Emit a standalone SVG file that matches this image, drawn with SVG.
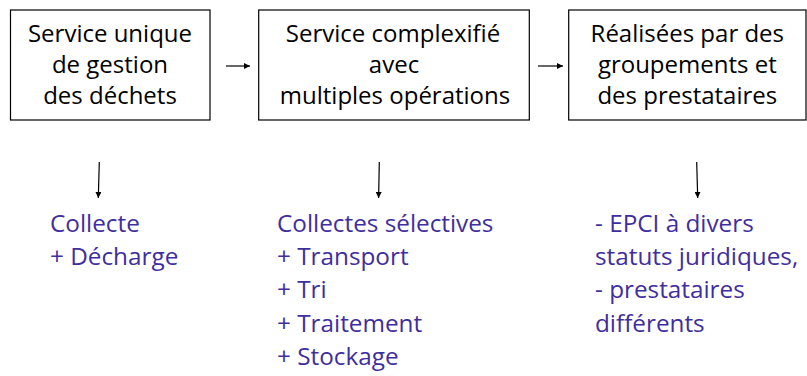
<svg xmlns="http://www.w3.org/2000/svg" width="807" height="376" viewBox="0 0 807 376">
  <style>
    .box { fill: #ffffff; stroke: #000000; stroke-width: 1.2; }
    .head { font-family: "Open Sans", "Liberation Sans", sans-serif; font-size: 24px; fill: #000000; text-anchor: middle; }
    .item { font-family: "Open Sans", "Liberation Sans", sans-serif; font-size: 24.3px; fill: #3f2e9e; }
    .conn { stroke: #000000; stroke-width: 1.2; fill: none; marker-end: url(#arrow); }
  </style>
  <defs>
    <marker id="arrow" viewBox="0 0 10 10" refX="10" refY="5" markerWidth="6" markerHeight="6" markerUnits="userSpaceOnUse" orient="auto">
      <path d="M0,0 L10,5 L0,10 z" fill="#000000"/>
    </marker>
  </defs>
  <rect width="807" height="376" fill="#ffffff"/>

  <g id="node-service-unique">
    <rect class="box" x="10.5" y="10" width="199.5" height="110"/>
    <text class="head" x="110" y="41.5">Service unique</text>
    <text class="head" x="110" y="72.5">de gestion</text>
    <text class="head" x="110" y="103.5">des déchets</text>
  </g>

  <g id="node-service-complexifie">
    <rect class="box" x="258.7" y="10" width="270.6" height="110"/>
    <text class="head" x="393" y="41.5">Service complexifié</text>
    <text class="head" x="394" y="72.5">avec</text>
    <text class="head" x="395" y="103.5">multiples opérations</text>
  </g>

  <g id="node-realisees">
    <rect class="box" x="568.7" y="10" width="237.3" height="110"/>
    <text class="head" x="687.3" y="41.5">Réalisées par des</text>
    <text class="head" x="687.3" y="72.5">groupements et</text>
    <text class="head" x="687.3" y="103.5">des prestataires</text>
  </g>

  <g id="list-collecte">
    <text class="item" x="50" y="232">Collecte</text>
    <text class="item" x="50" y="265">+ Décharge</text>
  </g>

  <g id="list-operations">
    <text class="item" x="277" y="232">Collectes sélectives</text>
    <text class="item" x="277" y="265">+ Transport</text>
    <text class="item" x="277" y="298.3">+ Tri</text>
    <text class="item" x="277" y="331.7">+ Traitement</text>
    <text class="item" x="277" y="365">+ Stockage</text>
  </g>

  <g id="list-acteurs">
    <text class="item" x="595" y="232">- EPCI à divers</text>
    <text class="item" x="595" y="265">statuts juridiques,</text>
    <text class="item" x="595" y="298.3">- prestataires</text>
    <text class="item" x="595" y="331.7">différents</text>
  </g>

  <g id="connectors">
    <line class="conn" x1="226" y1="66" x2="250" y2="66"/>
    <line class="conn" x1="538" y1="66" x2="563" y2="66"/>
    <line class="conn" x1="99.3" y1="162" x2="98.3" y2="198"/>
    <line class="conn" x1="379.3" y1="162" x2="378.6" y2="198"/>
    <line class="conn" x1="696.7" y1="162" x2="697.7" y2="198"/>
  </g>
</svg>
